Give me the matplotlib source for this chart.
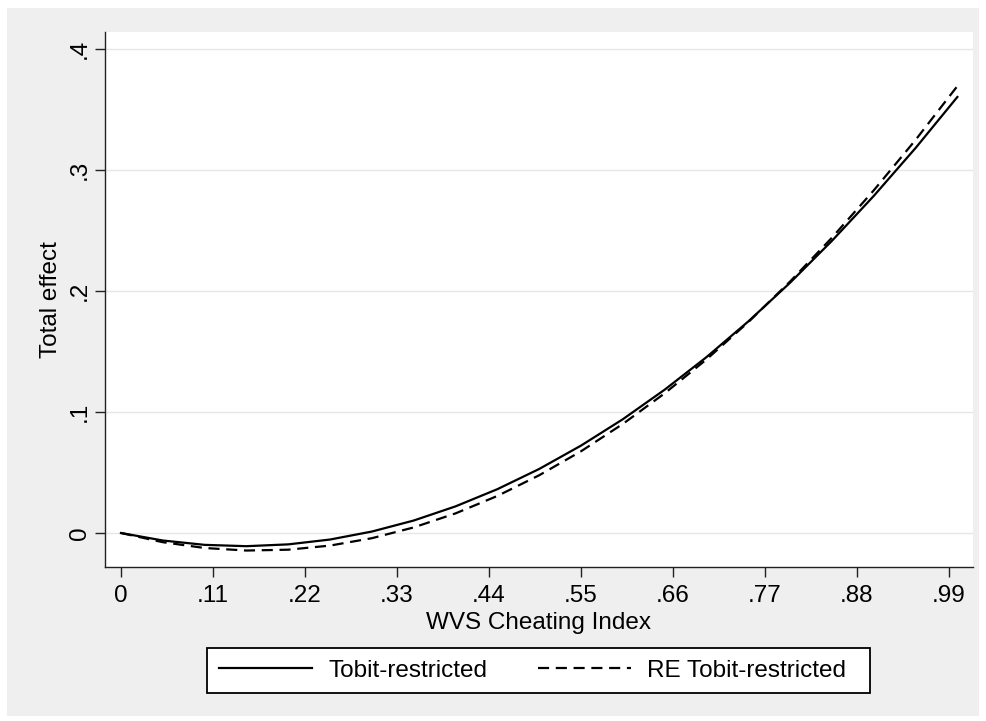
import matplotlib
matplotlib.use("Agg")
import matplotlib.pyplot as plt
from matplotlib.patches import Rectangle

# values
cheat_index = [0.00, 0.05, 0.10, 0.15, 0.20, 0.25, 0.30, 0.35, 0.40, 0.45, 0.50,
               0.55, 0.60, 0.65, 0.70, 0.75, 0.80, 0.85, 0.90, 0.95, 1.00]
tobit = [0.0, -0.0062, -0.0098, -0.0109, -0.0094, -0.0054, 0.0012, 0.0103,
         0.0220, 0.0362, 0.0529, 0.0722, 0.0940, 0.1184, 0.1453, 0.1748,
         0.2068, 0.2414, 0.2785, 0.3181, 0.3603]
re_tobit = [0.0, -0.0076, -0.0124, -0.0145, -0.0138, -0.0104, -0.0043, 0.0046,
            0.0162, 0.0306, 0.0477, 0.0675, 0.0901, 0.1154, 0.1434, 0.1742,
            0.2078, 0.2440, 0.2831, 0.3248, 0.3693]
x_ticks = [0, 0.11, 0.22, 0.33, 0.44, 0.55, 0.66, 0.77, 0.88, 0.99]
x_tick_labels = ["0", ".11", ".22", ".33", ".44", ".55", ".66", ".77", ".88", ".99"]
y_ticks = [0, 0.1, 0.2, 0.3, 0.4]
y_tick_labels = ["0", ".1", ".2", ".3", ".4"]

W, H = 987, 721
plt.rcParams["font.family"] = ["Liberation Sans", "DejaVu Sans"]
plt.rcParams["font.size"] = 17.5

fig = plt.figure(figsize=(W / 100, H / 100), dpi=100, facecolor="white")
# Stata-like gray graph region
fig.add_artist(Rectangle((7 / W, 1 - 716 / H), (979 - 7) / W, (716 - 8) / H,
                         transform=fig.transFigure, facecolor="#EFEFEF",
                         edgecolor="none", zorder=-10))

ax = fig.add_axes([105 / W, 1 - 567 / H, (973 - 105) / W, (567 - 32) / H])
ax.set_facecolor("white")

ax.plot(cheat_index, tobit, color="black", lw=1.6, label="Tobit-restricted")
ax.plot(cheat_index, re_tobit, color="black", lw=1.6, dashes=(5, 3),
        label="RE Tobit-restricted")

ax.set_xlim(-0.0191, 1.0187)
ax.set_ylim(-0.0281, 0.414)
ax.set_xticks(x_ticks, x_tick_labels)
ax.set_yticks(y_ticks, y_tick_labels, rotation=90, va="center")
ax.yaxis.grid(True, color="#E6E6E6", lw=1.0)
ax.set_axisbelow(True)

for s in ["top", "right"]:
    ax.spines[s].set_visible(False)
for s in ["left", "bottom"]:
    ax.spines[s].set_color("#222222")
    ax.spines[s].set_linewidth(1.0)
ax.tick_params(length=7, width=1.0, color="#222222", pad=6)
ax.tick_params(axis="y", pad=3)

ax.set_xlabel("WVS Cheating Index")
ax.set_ylabel("Total effect")
ax.xaxis.set_label_coords(0.5, -0.084)
ax.yaxis.set_label_coords(-0.0495, 0.5)

# legend box drawn separately (Stata pads the right side more than the left)
fig.add_artist(Rectangle((207.5 / W, 1 - 693 / H), (870 - 207.5) / W, (693 - 647.5) / H,
                         transform=fig.transFigure, facecolor="white",
                         edgecolor="black", lw=1.3, zorder=2))
leg = fig.legend(loc="center left", bbox_to_anchor=(219 / W, 1 - 670.5 / H), ncol=2,
                 handlelength=3.83, handletextpad=0.68, columnspacing=2.06,
                 borderpad=0, borderaxespad=0, frameon=False)
leg.set_zorder(3)

fig.savefig("out.png", dpi=100, facecolor=fig.get_facecolor())
